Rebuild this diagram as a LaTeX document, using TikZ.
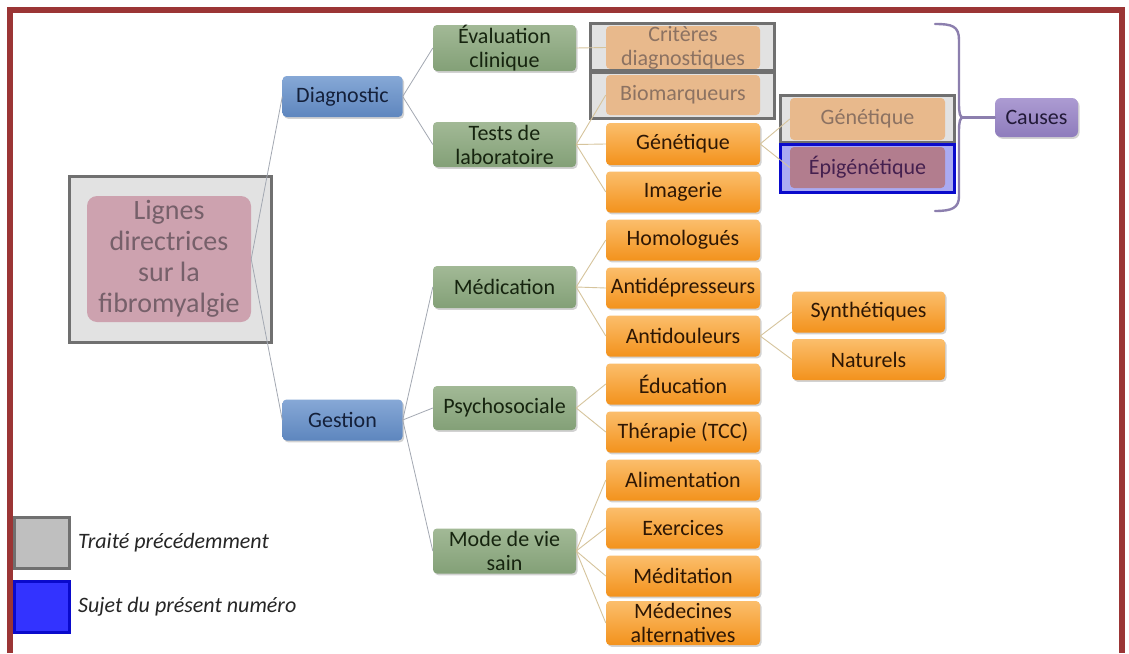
\documentclass[tikz,border=0pt]{standalone}
\usepackage{fontspec}
\setmainfont{Carlito}
\usetikzlibrary{shadows}
\definecolor{redframe}{HTML}{9B3535}
\definecolor{blueT}{HTML}{86A8D6}
\definecolor{blueB}{HTML}{5E86BE}
\definecolor{blueTx}{HTML}{14203A}
\definecolor{greenT}{HTML}{A2B996}
\definecolor{greenB}{HTML}{83A077}
\definecolor{greenTx}{HTML}{16240F}
\definecolor{orT}{HTML}{FBBE6C}
\definecolor{orB}{HTML}{F3921C}
\definecolor{orTx}{HTML}{2E1704}
\definecolor{fadeOr}{HTML}{E8B98C}
\definecolor{fadeTx}{HTML}{8C7262}
\definecolor{frameGray}{HTML}{707070}
\definecolor{frameFill}{HTML}{E2E2E2}
\definecolor{pinkBox}{HTML}{CDA2AF}
\definecolor{pinkTx}{HTML}{76606A}
\definecolor{epiFrame}{HTML}{0A0ACC}
\definecolor{epiFill}{HTML}{AAAAF2}
\definecolor{epiBox}{HTML}{B27D8E}
\definecolor{epiTx}{HTML}{45204F}
\definecolor{causT}{HTML}{AC9BD2}
\definecolor{causB}{HTML}{8E7CBC}
\definecolor{causTx}{HTML}{221A38}
\definecolor{braceCol}{HTML}{8C7FAE}
\definecolor{linkGray}{HTML}{A3A8B2}
\definecolor{linkTan}{HTML}{D6C49C}
\begin{document}
\begin{tikzpicture}[x=1pt,y=-1pt,
  base/.style={rounded corners=4pt, inner sep=0pt, align=center, font=\fontsize{22}{24}\selectfont},
  shad/.style={drop shadow={opacity=0.35,shadow xshift=1.5pt,shadow yshift=-1.8pt}},
  bluebox/.style={base, shad, top color=blueT, bottom color=blueB, text=blueTx, minimum width=120, minimum height=41},
  greenbox/.style={base, shad, top color=greenT, bottom color=greenB, text=greenTx, minimum width=143, minimum height=42},
  orangebox/.style={base, shad, top color=orT, bottom color=orB, text=orTx, minimum width=154, minimum height=41},
  fadedbox/.style={base, fill=fadeOr, text=fadeTx, minimum width=154, minimum height=41},
  grayframe/.style={draw=frameGray, line width=3pt, fill=frameFill, inner sep=0pt},
  link/.style={draw=linkGray, line width=0.8pt},
  tlink/.style={draw=linkTan, line width=0.9pt},
  bracestyle/.style={draw=braceCol, line width=2.4pt, line cap=round},
  legendtext/.style={anchor=west, inner sep=0pt, font=\fontsize{22}{24}\selectfont\itshape, text=black!85}
]
\useasboundingbox (0,0) rectangle (1129,653);
\fill[white] (0,0) rectangle (1129,653);
% outer red frame
\fill[redframe] (7,7) rectangle (1125,13);
\fill[redframe] (7,7) rectangle (13,653);
\fill[redframe] (1119,7) rectangle (1125,653);

% frames (previously treated / current)
\node[grayframe, minimum width=202, minimum height=166] (rootframe) at (170,259) {};
\node[grayframe, minimum width=184, minimum height=47] (critframe) at (682.5,47) {};
\node[grayframe, minimum width=184, minimum height=46] (bioframe) at (682.5,95) {};
\node[grayframe, minimum width=174, minimum height=47] (gen2frame) at (867.5,119) {};
\node[draw=epiFrame, line width=3pt, fill=epiFill, inner sep=0pt, minimum width=174, minimum height=48] (epiframe) at (867.5,168.5) {};

% nodes
\node[base, fill=pinkBox, text=pinkTx, rounded corners=10pt, minimum width=164, minimum height=126, font=\fontsize{28}{31}\selectfont] (root) at (169,259) {Lignes\\directrices\\sur la\\fibromyalgie};
\node[bluebox] (diag) at (342.5,96.5) {Diagnostic};
\node[bluebox] (gest) at (342.5,420) {Gestion};

\node[greenbox, minimum height=46] (eval) at (504.5,48) {Évaluation\\clinique};
\node[greenbox, minimum height=45] (tests) at (504.5,144.5) {Tests de\\laboratoire};
\node[greenbox] (med) at (504.5,287) {Médication};
\node[greenbox, minimum height=44] (psy) at (504.5,408) {Psychosociale};
\node[greenbox, minimum height=45] (mode) at (504.5,551) {Mode de vie\\sain};

\node[fadedbox] (crit) at (683,47.5) {Critères\\diagnostiques};
\node[fadedbox, minimum height=40] (bio) at (683,95) {Biomarqueurs};
\node[orangebox, minimum height=42] (gen) at (683,144) {Génétique};
\node[orangebox] (img) at (683,192) {Imagerie};
\node[orangebox] (hom) at (683,240) {Homologués};
\node[orangebox] (antid) at (683,288) {Antidépresseurs};
\node[orangebox] (antidou) at (683,336) {Antidouleurs};
\node[orangebox] (edu) at (683,384) {Éducation};
\node[orangebox] (ther) at (683,432) {Thérapie (TCC)};
\node[orangebox] (alim) at (683,480) {Alimentation};
\node[orangebox] (exer) at (683,528) {Exercices};
\node[orangebox] (medit) at (683,576) {Méditation};
\node[orangebox, minimum height=44] (medalt) at (683,623) {Médecines\\alternatives};

\node[orangebox, minimum width=153] (synth) at (868.5,312) {Synthétiques};
\node[orangebox, minimum width=153] (nat) at (868.5,359.5) {Naturels};

\node[fadedbox, minimum width=155, minimum height=42] (gen2) at (867.5,119) {Génétique};
\node[base, fill=epiBox, text=epiTx, minimum width=155, minimum height=41] (epi) at (867.5,167.5) {Épigénétique};

\node[base, shad, rounded corners=6pt, top color=causT, bottom color=causB, text=causTx, minimum width=83, minimum height=39] (causes) at (1036.5,117.5) {Causes};

% connectors
\draw[link] (root.east) -- (diag.west);
\draw[link] (root.east) -- (gest.west);
\draw[link] (diag.east) -- (eval.west);
\draw[link] (diag.east) -- (tests.west);
\draw[link] (gest.east) -- (med.west);
\draw[link] (gest.east) -- (psy.west);
\draw[link] (gest.east) -- (mode.west);
\draw[tlink] (eval.east) -- (crit.west);
\draw[tlink] (tests.east) -- (bio.west);
\draw[tlink] (tests.east) -- (gen.west);
\draw[tlink] (tests.east) -- (img.west);
\draw[tlink] (gen.east) -- (gen2.west);
\draw[tlink] (gen.east) -- (epi.west);
\draw[tlink] (med.east) -- (hom.west);
\draw[tlink] (med.east) -- (antid.west);
\draw[tlink] (med.east) -- (antidou.west);
\draw[tlink] (antidou.east) -- (synth.west);
\draw[tlink] (antidou.east) -- (nat.west);
\draw[tlink] (psy.east) -- (edu.west);
\draw[tlink] (psy.east) -- (ther.west);
\draw[tlink] (mode.east) -- (alim.west);
\draw[tlink] (mode.east) -- (exer.west);
\draw[tlink] (mode.east) -- (medit.west);
\draw[tlink] (mode.east) -- (medalt.west);

% brace towards Causes
\coordinate (btip) at (963,117.5);
\draw[bracestyle] (935,24) .. controls (952,24) and (959,26) .. (959,40) -- (959,104) .. controls (959,113) and (960,117.5) .. (btip) .. controls (960,117.5) and (959,122) .. (959,131) -- (959,196) .. controls (959,208) and (952,211) .. (935,211);
\draw[bracestyle] (btip) -- (causes.west);

% legend
\node[draw=frameGray, fill=black!25, line width=3pt, minimum width=55, minimum height=51, inner sep=0pt] (leg1) at (41.5,542.5) {};
\node[draw=epiFrame, fill=blue!80!white, line width=3pt, minimum width=55, minimum height=51, inner sep=0pt] (leg2) at (41.5,606.5) {};
\node[legendtext] (leg1t) at (78,543) {Traité précédemment};
\node[legendtext] (leg2t) at (78,607) {Sujet du présent numéro};
\end{tikzpicture}
\end{document}
